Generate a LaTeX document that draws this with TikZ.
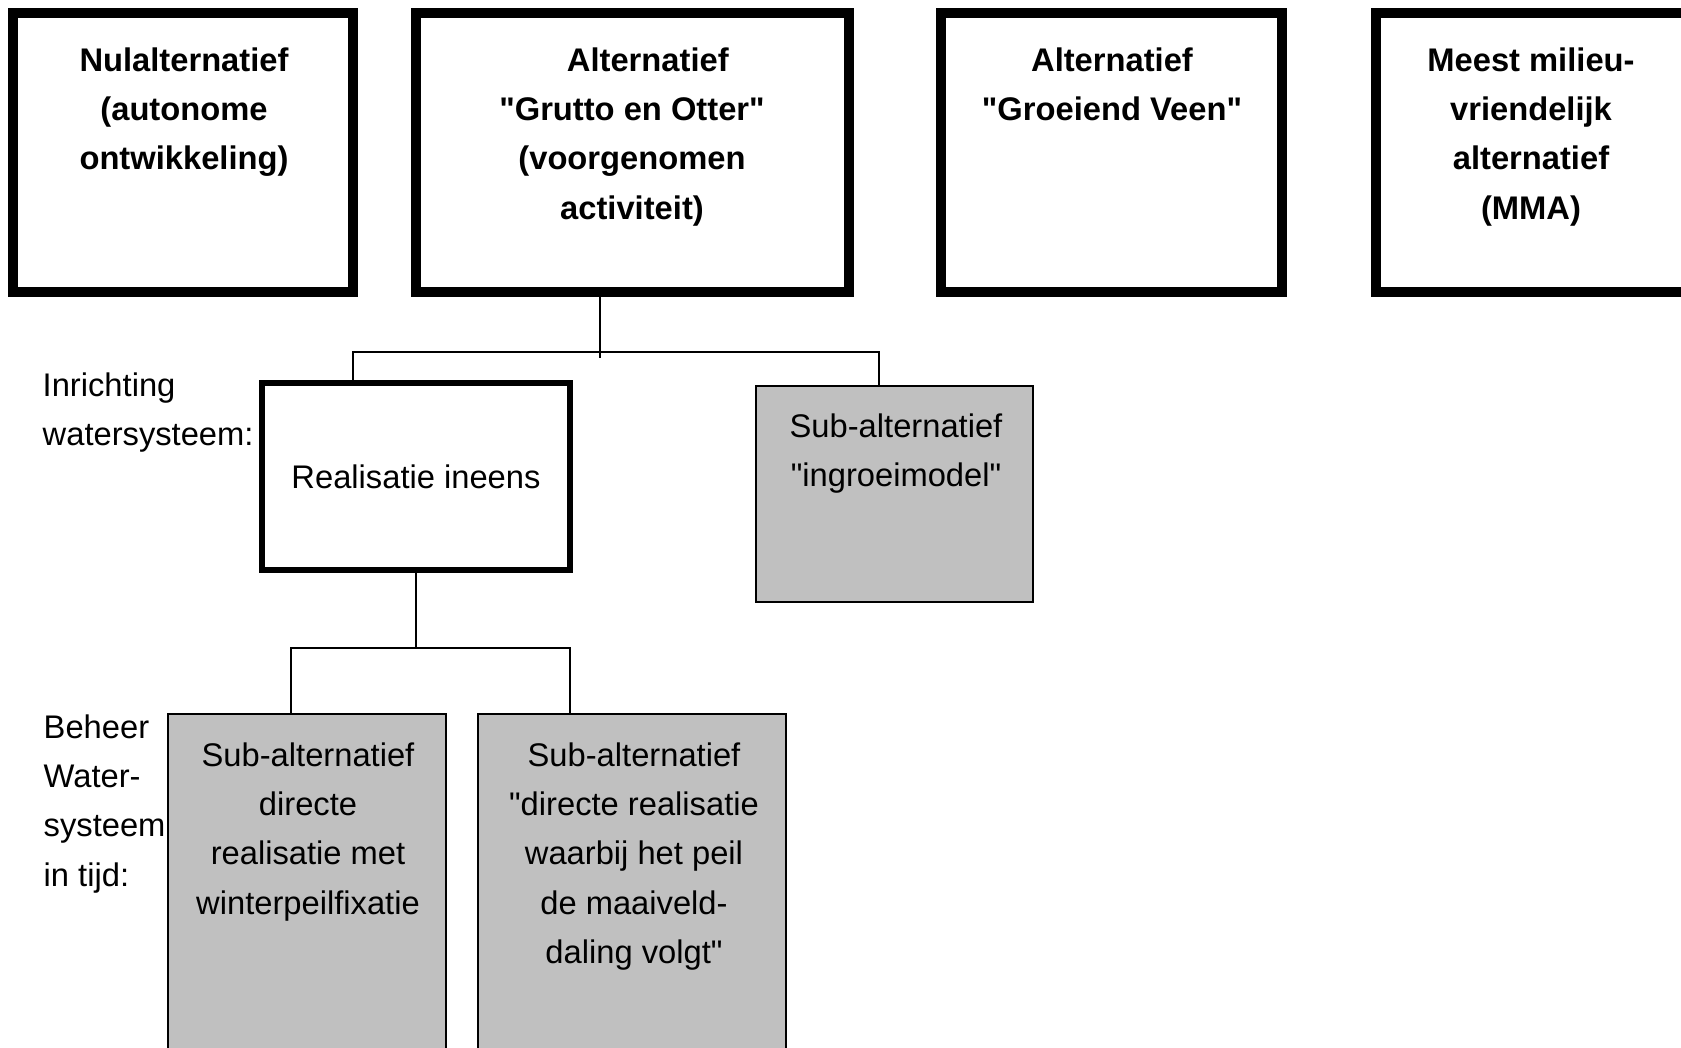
\documentclass[tikz,border=0pt]{standalone}
\usepackage{fontspec}
\setmainfont{Liberation Sans}
\usepackage{tikz}
\usepackage{xcolor}
\definecolor{subgray}{HTML}{C0C0C0}
\newcommand{\qd}{\textquotedbl}

\begin{document}
\begin{tikzpicture}[x=0.01cm, y=-0.01cm,
    altbox/.style={draw, line width=2.85pt, inner sep=0pt, outer sep=0pt, minimum height=2.79cm},
    realbox/.style={draw, line width=1.7pt, inner sep=0pt, outer sep=0pt, font=\fontsize{9.3}{14}\selectfont},
    subbox/.style={draw, line width=0.6pt, fill=subgray, inner sep=0pt, outer sep=0pt},
    boldtxt/.style={font=\fontsize{9.3}{14}\selectfont\bfseries, align=center, anchor=north, inner sep=0pt},
    plaintxt/.style={font=\fontsize{9.3}{14}\selectfont, align=center, anchor=north, inner sep=0pt},
    sidetxt/.style={font=\fontsize{9.3}{14}\selectfont, align=left, anchor=north west, inner sep=0pt},
    link/.style={line width=0.6pt}]
    \useasboundingbox (0,0) rectangle (1681,1048);
    \clip (0,0) rectangle (1681,1048);

    % Alternatieven (top row)
    \node[altbox, minimum width=3.40cm] (nul) at (183,152.5) {};
    \node[altbox, minimum width=4.33cm] (grutto) at (632.5,152.5) {};
    \node[altbox, minimum width=3.41cm] (veen) at (1111.5,152.5) {};
    \node[altbox, minimum width=3.14cm] (mma) at (1533,152.5) {};

    \node[boldtxt] (nultxt) at (184,47) {Nulalternatief\\(autonome\\ontwikkeling)};
    \node[boldtxt] (gruttotxt) at (632,47) {\hspace*{9pt}Alternatief\\\qd Grutto en Otter\qd\\(voorgenomen\\activiteit)};
    \node[boldtxt] (veentxt) at (1112,47) {Alternatief\\\qd Groeiend Veen\qd};
    \node[boldtxt] (mmatxt) at (1531,47) {Meest milieu-\\vriendelijk\\alternatief\\(MMA)};

    % Inrichting watersysteem
    \node[realbox, minimum width=3.08cm, minimum height=1.87cm] (real) at (416,476.5) {Realisatie ineens};
    \node[subbox, minimum width=2.77cm, minimum height=2.16cm] (ingroei) at (894.5,494) {};
    \node[plaintxt] (ingroeitxt) at (896,413) {Sub-alternatief\\\qd ingroeimodel\qd};
    \node[sidetxt] (inrichting) at (42,372) {Inrichting\\watersysteem:};

    % Beheer watersysteem in tijd
    \node[subbox, minimum width=2.78cm, minimum height=3.86cm] (winter) at (307,907) {};
    \node[subbox, minimum width=3.08cm, minimum height=3.86cm] (maaiveld) at (632,907) {};
    \node[plaintxt] (wintertxt) at (308,742) {Sub-alternatief\\directe\\realisatie met\\winterpeilfixatie};
    \node[plaintxt] (maaiveldtxt) at (634,742) {Sub-alternatief\\\qd directe realisatie\\waarbij het peil\\de maaiveld-\\daling volgt\qd};
    \node[sidetxt] (beheer) at (43,714) {Beheer\\Water-\\systeem\\in tijd:};

    % Verbindingen
    \coordinate (stem) at (600,358);
    \coordinate (busL) at (353,352);
    \coordinate (busR) at (879,352);
    \draw[link] (stem |- grutto.south) -- (stem);
    \draw[link] (real.north -| busL) -- (busL) -- (busR) -- (ingroei.north -| busR);

    \coordinate (bus2L) at (291,648);
    \coordinate (bus2R) at (570,648);
    \draw[link] (real.south) -- (real.south |- bus2L);
    \draw[link] (winter.north -| bus2L) -- (bus2L) -- (bus2R) -- (maaiveld.north -| bus2R);
\end{tikzpicture}
\end{document}
